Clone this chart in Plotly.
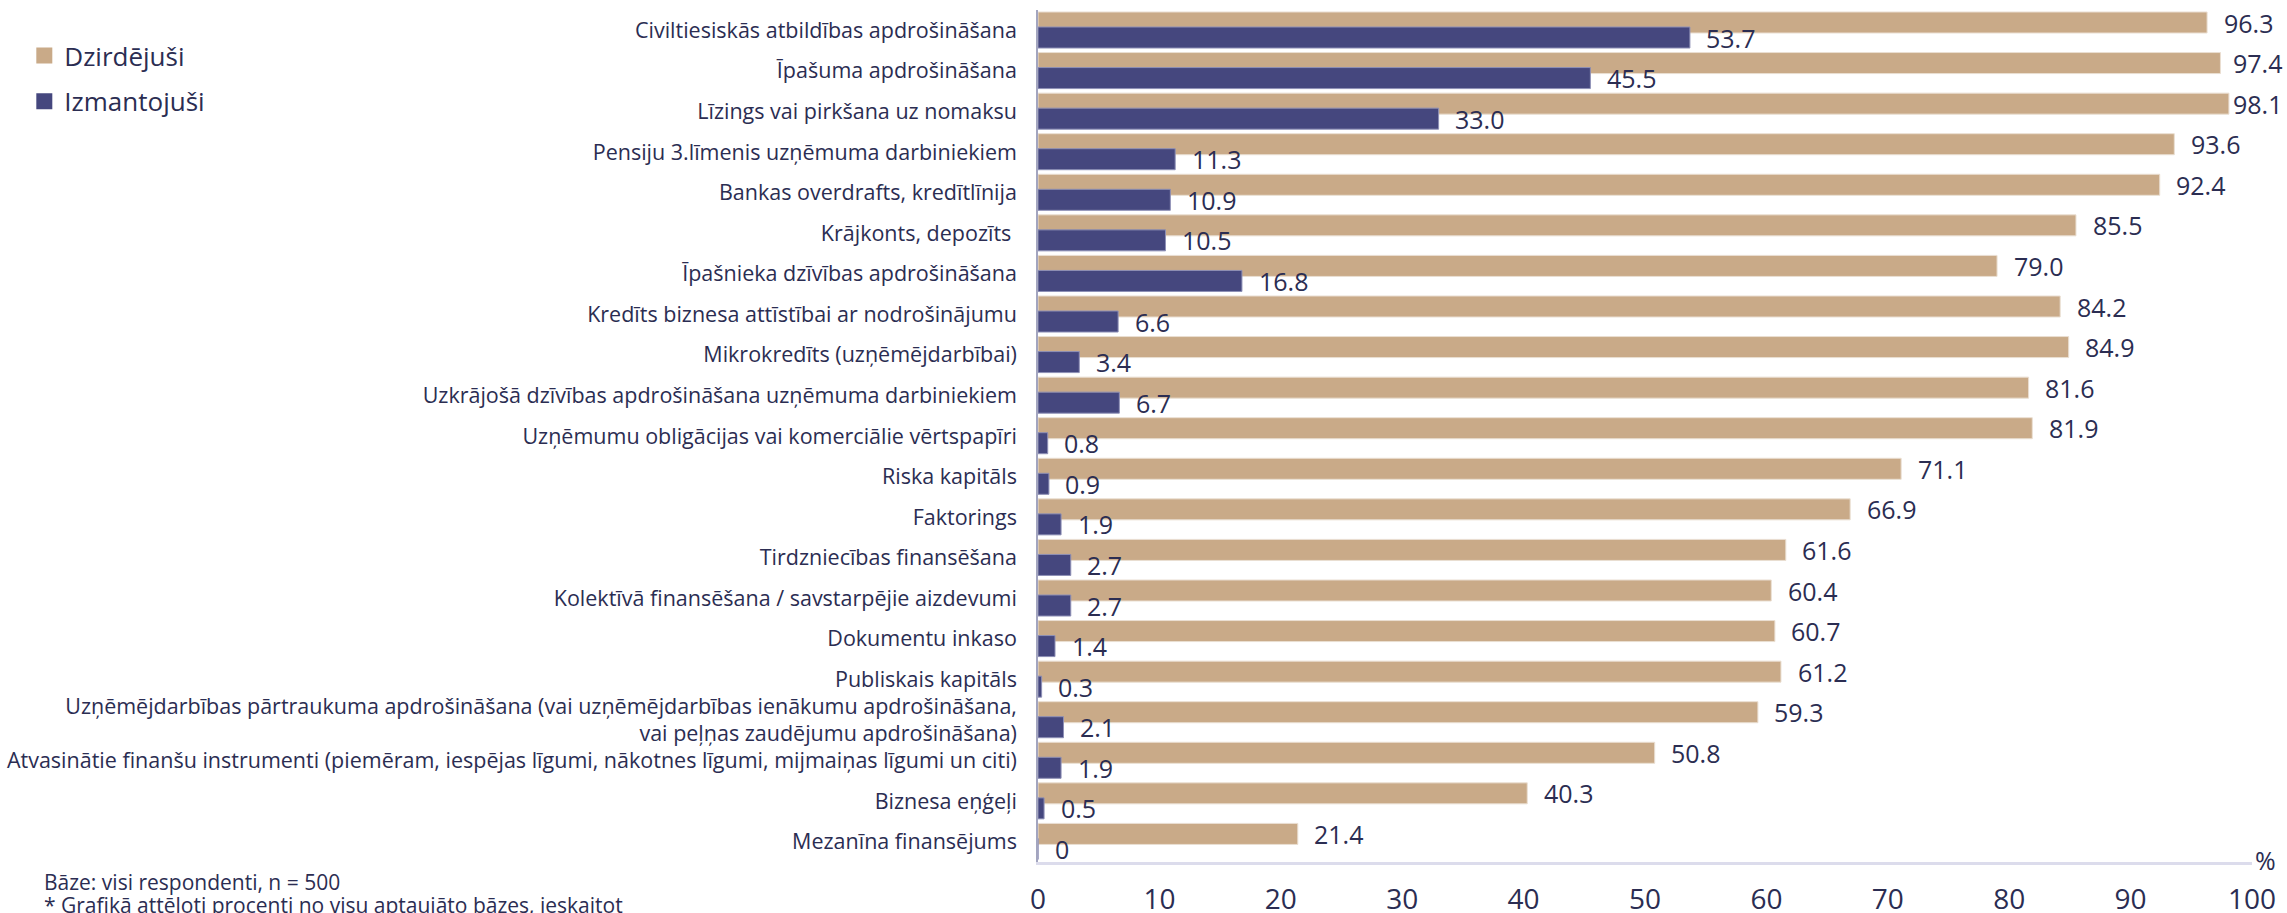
import plotly.graph_objects as go

categories = [
    "Civiltiesiskās atbildības apdrošināšana",
    "Īpašuma apdrošināšana",
    "Līzings vai pirkšana uz nomaksu",
    "Pensiju 3.līmenis uzņēmuma darbiniekiem",
    "Bankas overdrafts, kredītlīnija",
    "Krājkonts, depozīts\u00a0",
    "Īpašnieka dzīvības apdrošināšana",
    "Kredīts biznesa attīstībai ar nodrošinājumu",
    "Mikrokredīts (uzņēmējdarbībai)",
    "Uzkrājošā dzīvības apdrošināšana uzņēmuma darbiniekiem",
    "Uzņēmumu obligācijas vai komerciālie vērtspapīri",
    "Riska kapitāls",
    "Faktorings",
    "Tirdzniecības finansēšana",
    "Kolektīvā finansēšana / savstarpējie aizdevumi",
    "Dokumentu inkaso",
    "Publiskais kapitāls",
    "Uzņēmējdarbības pārtraukuma apdrošināšana (vai uzņēmējdarbības ienākumu apdrošināšana,<br>vai peļņas zaudējumu apdrošināšana)",
    "Atvasinātie finanšu instrumenti (piemēram, iespējas līgumi, nākotnes līgumi, mijmaiņas līgumi un citi)",
    "Biznesa eņģeļi",
    "Mezanīna finansējums",
]
heard = [96.3, 97.4, 98.1, 93.6, 92.4, 85.5, 79.0, 84.2, 84.9, 81.6, 81.9,
         71.1, 66.9, 61.6, 60.4, 60.7, 61.2, 59.3, 50.8, 40.3, 21.4]
used = [53.7, 45.5, 33.0, 11.3, 10.9, 10.5, 16.8, 6.6, 3.4, 6.7, 0.8,
        0.9, 1.9, 2.7, 2.7, 1.4, 0.3, 2.1, 1.9, 0.5, 0]
series_names = ["Dzirdējuši", "Izmantojuši"]
x_ticks = [0, 10, 20, 30, 40, 50, 60, 70, 80, 90, 100]

TAN = "#C9AA88"
NAVY = "#45477E"
TEXT = "#2B2D52"
FONT = "Open Sans"

pos = list(range(len(categories)))
BAR_W = 0.518
TAN_OFF = -0.451
NAVY_OFF = -0.081
TAN_C = TAN_OFF + BAR_W / 2
NAVY_C = NAVY_OFF + BAR_W / 2

fig = go.Figure()
fig.add_trace(go.Bar(orientation="h", x=heard, y=pos, width=BAR_W, offset=TAN_OFF,
                     marker=dict(color=TAN, line=dict(color="#EADFD2", width=1)),
                     showlegend=False, name=series_names[0]))
fig.add_trace(go.Bar(orientation="h", x=used, y=pos, width=BAR_W, offset=NAVY_OFF,
                     marker=dict(color=NAVY, line=dict(color="#8E90B6", width=1)),
                     showlegend=False, name=series_names[1]))

fig.add_trace(go.Scatter(x=[None], y=[None], mode="markers", name=series_names[0],
                         legendgroup="a",
                         marker=dict(symbol="square", size=17, color=TAN)))
fig.add_trace(go.Scatter(x=[None], y=[None], mode="markers", name=series_names[1],
                         legendgroup="b",
                         marker=dict(symbol="square", size=17, color=NAVY)))

def fmt(v):
    return "0" if v == 0 else f"{v:.1f}"

PAD = 1.2
MAXX = 98.3
annotations = []
for i, (h, u) in enumerate(zip(heard, used)):
    annotations.append(dict(x=min(h + PAD, MAXX), y=i + TAN_C, text=fmt(h), xref="x", yref="y",
                            xanchor="left", yanchor="middle", showarrow=False,
                            font=dict(family=FONT, size=25, color=TEXT)))
    annotations.append(dict(x=min(u + PAD, MAXX), y=i + NAVY_C, text=fmt(u), xref="x", yref="y",
                            xanchor="left", yanchor="middle", showarrow=False,
                            font=dict(family=FONT, size=25, color=TEXT)))

annotations.append(dict(x=1.0115, y=0.002, xref="paper", yref="paper", text="%",
                        xanchor="center", yanchor="middle", showarrow=False,
                        font=dict(family=FONT, size=25, color=TEXT)))
annotations.append(dict(x=-0.8204, y=-0.0235, xref="paper", yref="paper",
                        text="Bāze: visi respondenti, n = 500",
                        xanchor="left", yanchor="middle", showarrow=False,
                        font=dict(family=FONT, size=21, color=TEXT)))
annotations.append(dict(x=-0.8204, y=-0.0505, xref="paper", yref="paper",
                        text="* Grafikā attēloti procenti no visu aptaujāto bāzes, ieskaitot",
                        xanchor="left", yanchor="middle", showarrow=False,
                        font=dict(family=FONT, size=21, color=TEXT)))

fig.update_layout(
    width=2287, height=913, autosize=False,
    margin=dict(l=1038, r=35, t=10, b=51, autoexpand=False),
    paper_bgcolor="white", plot_bgcolor="white",
    barmode="overlay",
    font=dict(family=FONT, color=TEXT),
    annotations=annotations,
    showlegend=True,
    legend=dict(x=-0.835, y=0.974, xanchor="left", yanchor="top",
                font=dict(family=FONT, size=26, color=TEXT),
                tracegroupgap=9, bgcolor="rgba(0,0,0,0)", itemsizing="trace"),
    xaxis=dict(range=[0, 100], tickvals=x_ticks, ticktext=[str(t) for t in x_ticks],
               showgrid=False, zeroline=False, showline=True, linecolor="#DCDCEC",
               linewidth=3, ticks="", tickfont=dict(family=FONT, size=28, color=TEXT),
               ticklabelstandoff=10, automargin=False, fixedrange=True),
    yaxis=dict(range=[len(categories) - 0.5, -0.5], autorange=False,
               tickvals=pos, ticktext=categories,
               showgrid=False, zeroline=False, showline=True, linecolor="#A3A5BF",
               linewidth=1.5, ticks="", tickfont=dict(family=FONT, size=21.5, color=TEXT),
               ticklabelstandoff=15, automargin=False, fixedrange=True),
)

fig.write_html("out.html",
               config={"displayModeBar": False, "responsive": False},
               post_script="document.body.style.margin='0';document.body.style.overflow='hidden';")
